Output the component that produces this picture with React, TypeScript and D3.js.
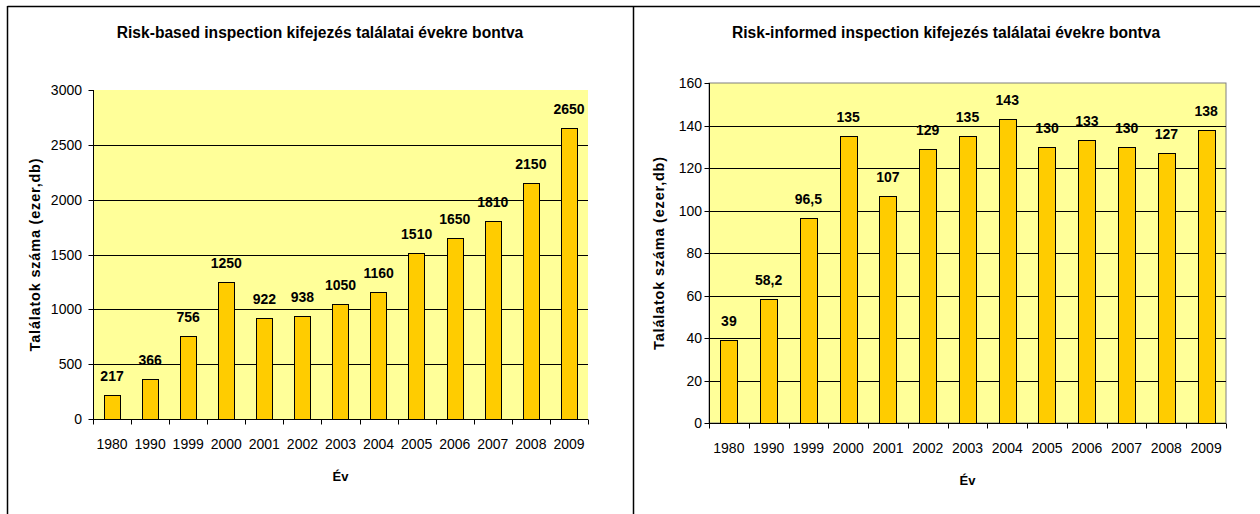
import { useEffect, useRef } from "react";
import * as d3 from "d3";

const years = ["1980", "1990", "1999", "2000", "2001", "2002", "2003", "2004", "2005", "2006", "2007", "2008", "2009"];
const riskBased = [217, 366, 756, 1250, 922, 938, 1050, 1160, 1510, 1650, 1810, 2150, 2650];
const riskInformed = [39, 58.2, 96.5, 135, 107, 129, 135, 143, 130, 133, 130, 127, 138];
const riskBasedTicks = [0, 500, 1000, 1500, 2000, 2500, 3000];
const riskInformedTicks = [0, 20, 40, 60, 80, 100, 120, 140, 160];

const FONT = "'Liberation Sans', Arial, sans-serif";

interface PanelProps {
  title: string;
  values: number[];
  ticks: number[];
  yMax: number;
  left: number;
  right: number;
  top: number;
  bottom: number;
  titleX: number;
  yTitleX: number;
  tickGap: number;
  frame: boolean;
  fmt: (v: number) => string;
}

function BarPanel(p: PanelProps) {
  const gRef = useRef<SVGGElement>(null);

  useEffect(() => {
    if (!gRef.current) return;
    const g = d3.select(gRef.current);
    g.selectAll("*").remove();

    const x = d3.scaleBand<string>().domain(years).range([p.left, p.right]).paddingInner(0.57).paddingOuter(0.285);
    const band = d3.scaleBand<string>().domain(years).range([p.left, p.right]);
    const y = d3.scaleLinear().domain([0, p.yMax]).range([p.bottom, p.top]);
    const cy = (v: number) => Math.round(y(v)) + 0.5;

    // title
    g.append("text")
      .attr("x", p.titleX)
      .attr("y", 38)
      .attr("text-anchor", "middle")
      .attr("font-family", FONT)
      .attr("font-weight", "bold")
      .attr("font-size", 15.6)
      .text(p.title);

    // plot area
    g.append("rect")
      .attr("x", p.left)
      .attr("y", p.top)
      .attr("width", p.right - p.left)
      .attr("height", p.bottom - p.top)
      .attr("fill", "#FFFF99")
      .attr("stroke", p.frame ? "#808080" : "none");

    // gridlines
    g.selectAll("line.grid")
      .data(p.ticks.filter(t => t > 0 && t < p.yMax))
      .join("line")
      .attr("class", "grid")
      .attr("x1", p.left)
      .attr("x2", p.right)
      .attr("y1", d => cy(d))
      .attr("y2", d => cy(d))
      .attr("stroke", "#000")
      .attr("stroke-width", 1);

    // bars
    g.selectAll("rect.bar")
      .data(p.values)
      .join("rect")
      .attr("class", "bar")
      .attr("x", (_, i) => Math.round(x(years[i])!) + 0.5)
      .attr("y", d => cy(d))
      .attr("width", Math.round(x.bandwidth()))
      .attr("height", d => cy(0) - cy(d))
      .attr("fill", "#FFCC00")
      .attr("stroke", "#000")
      .attr("stroke-width", 1);

    // value labels
    g.selectAll("text.val")
      .data(p.values)
      .join("text")
      .attr("class", "val")
      .attr("x", (_, i) => x(years[i])! + x.bandwidth() / 2)
      .attr("y", d => y(d) - 14)
      .attr("text-anchor", "middle")
      .attr("font-family", FONT)
      .attr("font-weight", "bold")
      .attr("font-size", 14)
      .text(d => p.fmt(d));

    // y axis
    const ax = Math.round(p.left) + 0.5;
    g.append("line")
      .attr("x1", ax).attr("x2", ax)
      .attr("y1", p.top).attr("y2", cy(0))
      .attr("stroke", "#000");
    g.selectAll("line.ytick")
      .data(p.ticks)
      .join("line")
      .attr("class", "ytick")
      .attr("x1", ax - 5).attr("x2", ax)
      .attr("y1", d => cy(d)).attr("y2", d => cy(d))
      .attr("stroke", "#000");
    g.selectAll("text.ylab")
      .data(p.ticks)
      .join("text")
      .attr("class", "ylab")
      .attr("x", p.left - p.tickGap)
      .attr("y", d => y(d) + 5)
      .attr("text-anchor", "end")
      .attr("font-family", FONT)
      .attr("font-size", 14)
      .text(d => String(d));

    // x axis
    g.append("line")
      .attr("x1", p.left).attr("x2", p.right)
      .attr("y1", cy(0)).attr("y2", cy(0))
      .attr("stroke", "#000");
    const edges = years.map(yr => band(yr)!).concat([p.right]);
    g.selectAll("line.xtick")
      .data(edges)
      .join("line")
      .attr("class", "xtick")
      .attr("x1", d => Math.round(d) + 0.5).attr("x2", d => Math.round(d) + 0.5)
      .attr("y1", cy(0)).attr("y2", cy(0) + 5)
      .attr("stroke", "#000");
    g.selectAll("text.xlab")
      .data(years)
      .join("text")
      .attr("class", "xlab")
      .attr("x", d => band(d)! + band.bandwidth() / 2)
      .attr("y", p.bottom + 30)
      .attr("text-anchor", "middle")
      .attr("font-family", FONT)
      .attr("font-size", 14)
      .text(d => d);

    // axis titles
    g.append("text")
      .attr("x", (p.left + p.right) / 2)
      .attr("y", p.bottom + 62)
      .attr("text-anchor", "middle")
      .attr("font-family", FONT)
      .attr("font-weight", "bold")
      .attr("font-size", 13)
      .text("Év");

    g.append("text")
      .attr("transform", `translate(${p.yTitleX},${(p.top + p.bottom) / 2}) rotate(-90)`)
      .attr("text-anchor", "middle")
      .attr("font-family", FONT)
      .attr("font-weight", "bold")
      .attr("font-size", 14.5)
      .attr("letter-spacing", 0.8)
      .text("Találatok száma (ezer,db)");
  }, [p]);

  return <g ref={gRef} />;
}

export default function App() {
  return (
    <svg width={1260} height={514} style={{ position: "absolute", left: 0, top: 0, background: "#fff" }}>
      <rect x={0} y={0} width={1260} height={514} fill="#fff" />
      <line x1={7.5} x2={1260} y1={6.5} y2={6.5} stroke="#000" strokeWidth={1.5} />
      <line x1={7.5} x2={7.5} y1={6} y2={514} stroke="#000" strokeWidth={1.5} />
      <line x1={633.5} x2={633.5} y1={6} y2={514} stroke="#000" strokeWidth={1.5} />
      <BarPanel
        title="Risk-based inspection kifejezés találatai évekre bontva"
        values={riskBased}
        ticks={riskBasedTicks}
        yMax={3000}
        left={93}
        right={588}
        top={90}
        bottom={419}
        titleX={320}
        yTitleX={40}
        tickGap={11}
        frame={false}
        fmt={v => String(v)}
      />
      <BarPanel
        title="Risk-informed inspection kifejezés találatai évekre bontva"
        values={riskInformed}
        ticks={riskInformedTicks}
        yMax={160}
        left={709}
        right={1226}
        top={83}
        bottom={423}
        titleX={946}
        yTitleX={664}
        tickGap={7}
        frame={true}
        fmt={v => String(v).replace(".", ",")}
      />
    </svg>
  );
}
